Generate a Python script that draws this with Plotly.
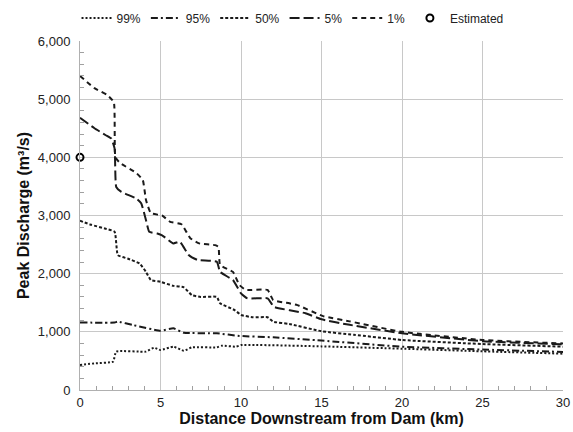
import plotly.graph_objects as go

# Data
x_p99 = [0, 0.9, 2.05, 2.25, 4.1, 4.6, 5.0, 5.8, 6.45, 6.95, 8.5, 8.8, 9.7, 10, 15, 20, 25, 30]
y_p99 = [430, 458, 487, 660, 660, 727, 687, 745, 675, 733, 733, 762, 745, 773, 750, 710, 665, 625]

x_p95 = [0, 2.15, 2.35, 3.3, 5.0, 5.8, 6.45, 8.5, 9.9, 12, 15, 20, 25, 30]
y_p95 = [1160, 1160, 1175, 1115, 1020, 1060, 985, 975, 930, 905, 850, 745, 695, 655]

x_p50 = [0, 0.7, 1.5, 2.15, 2.35, 2.95, 3.7, 4.1, 4.4, 5.0, 5.8, 6.45, 6.95, 7.5, 8.5, 8.7,
         9.6, 10, 10.75, 11.65, 12, 13, 15, 17, 20, 25, 30]
y_p50 = [2910, 2840, 2780, 2720, 2320, 2260, 2175, 2030, 1890, 1860, 1790, 1765, 1630, 1600, 1600, 1490,
         1375, 1290, 1250, 1250, 1175, 1135, 1010, 950, 860, 790, 745]

x_p5 = [0, 0.9, 1.6, 1.95, 2.15, 2.25, 2.55, 3.5, 3.8, 4.1, 4.3, 4.8, 5.1, 5.8, 6.2, 6.75, 7.3, 8.5,
        8.7, 9.5, 10.0, 10.4, 11.65, 12.05, 14, 15, 16.75, 20, 25, 30]
y_p5 = [4680, 4500, 4380, 4320, 4150, 3490, 3410, 3290, 3210, 2920, 2720, 2690, 2660, 2520, 2550, 2320, 2235, 2205,
        2030, 1890, 1660, 1575, 1575, 1430, 1320, 1215, 1120, 975, 840, 785]

x_p1 = [0, 0.9, 1.7, 2.1, 2.2, 2.5, 3.5, 3.9, 4.1, 4.4, 5.1, 5.6, 6.3, 6.85, 7.4, 8.4, 8.6, 8.7, 9.5,
        9.9, 10.3, 11.65, 12, 13, 13.5, 15.1, 16.75, 20, 25, 30]
y_p1 = [5400, 5190, 5070, 4950, 4000, 3900, 3730, 3610, 3265, 3040, 3000, 2890, 2850, 2610, 2520, 2490, 2460, 2150, 2030,
        1805, 1720, 1720, 1546, 1490, 1460, 1270, 1180, 1000, 860, 800]

x_est = [0]
y_est = [4000]

series = [
    ("99%", x_p99, y_p99, "2px,2px"),
    ("95%", x_p95, y_p95, "7px,3px,2px,3px"),
    ("50%", x_p50, y_p50, "3px,2px"),
    ("5%", x_p5, y_p5, "10px,4px"),
    ("1%", x_p1, y_p1, "5px,4px"),
]

fig = go.Figure()
for name, xs, ys, dash in series:
    fig.add_trace(go.Scatter(x=xs, y=ys, mode="lines", name=name,
                             line=dict(color="#1a1a1a", width=2, dash=dash, shape="spline", smoothing=0.4)))

fig.add_trace(go.Scatter(x=x_est, y=y_est, mode="markers", name="Estimated",
                         marker=dict(symbol="circle-open", size=7, color="black",
                                     line=dict(width=2, color="black")),
                         cliponaxis=False))

font_family = "Liberation Sans, Arial, sans-serif"
fig.update_layout(
    width=573, height=432,
    margin=dict(l=80, r=3, t=41, b=42),
    paper_bgcolor="white", plot_bgcolor="white",
    font=dict(family=font_family, size=12, color="#222"),
    showlegend=True,
    legend=dict(orientation="h", x=0.44, xanchor="center", y=1.066, yanchor="middle",
                font=dict(size=12, color="#222"), itemwidth=30,
                bgcolor="rgba(0,0,0,0)", tracegroupgap=0),
    xaxis=dict(range=[0, 30], dtick=5, showgrid=True, gridcolor="#c8c8c8", gridwidth=1,
               showline=True, linecolor="#b0b0b0", linewidth=1, zeroline=False,
               ticks="inside", ticklen=0, tickfont=dict(size=13, color="#222"),
               ticklabeloverflow="allow",
               minor=dict(dtick=1, ticks="inside", ticklen=4, tickcolor="#a0a0a0", showgrid=False),
               title=dict(text="<b>Distance Downstream from Dam (km)</b>", font=dict(size=16, color="#111"),
                          standoff=1)),
    yaxis=dict(range=[0, 6000], dtick=1000, tickformat=",d", showgrid=True, gridcolor="#c8c8c8", gridwidth=1,
               showline=True, linecolor="#b0b0b0", linewidth=1, zeroline=False,
               ticks="inside", ticklen=0, tickfont=dict(size=13, color="#222"),
               ticklabelstandoff=6,
               minor=dict(dtick=200, ticks="inside", ticklen=4, tickcolor="#a0a0a0", showgrid=False),
               title=dict(text="<b>Peak Discharge (m³/s)</b>", font=dict(size=16, color="#111"),
                          standoff=4)),
)

fig.write_html("out.html")
